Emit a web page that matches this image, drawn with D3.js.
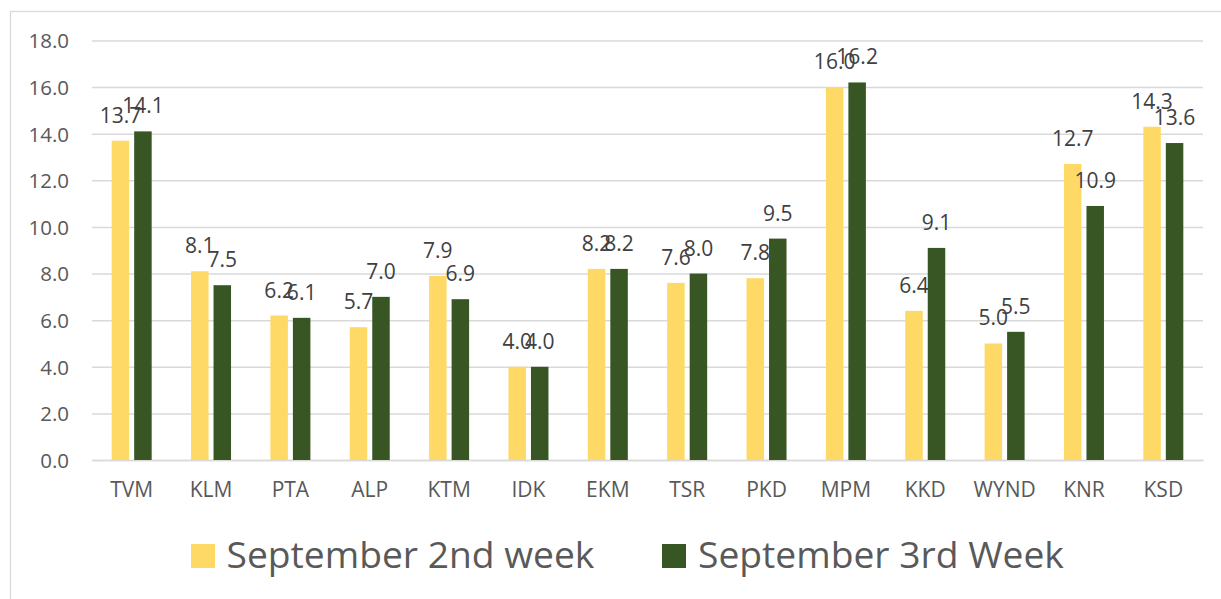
<!DOCTYPE html>
<html><head><meta charset="utf-8">
<script src="https://cdn.jsdelivr.net/npm/d3@7"></script>
<style>
html,body{margin:0;padding:0;background:#fff;}
svg{display:block;font-family:"Open Sans","Noto Sans",sans-serif;}
</style></head>
<body>
<svg id="chart" width="1221" height="599"></svg>
<script>
const categories = ["TVM","KLM","PTA","ALP","KTM","IDK","EKM","TSR","PKD","MPM","KKD","WYND","KNR","KSD"];
const seriesNames = ["September 2nd week","September 3rd Week"];
const week2 = [13.7,8.1,6.2,5.7,7.9,4.0,8.2,7.6,7.8,16.0,6.4,5.0,12.7,14.3];
const week3 = [14.1,7.5,6.1,7.0,6.9,4.0,8.2,8.0,9.5,16.2,9.1,5.5,10.9,13.6];
const yTicks = [0,2,4,6,8,10,12,14,16,18];
const colors = ["#FFD966","#375623"];

const svg = d3.select("#chart");
const plot = {left:92, right:1203, top:40.5, bottom:460};

// outer chart border
svg.append("rect").attr("x",10.5).attr("y",11.5).attr("width",1230).attr("height",620)
  .attr("fill","none").attr("stroke","#d9d9d9").attr("stroke-width",1.3);

const x0 = d3.scaleBand().domain(categories).range([plot.left, plot.right]).padding(0);
const x1 = d3.scaleBand().domain(seriesNames).range([0, x0.bandwidth()]).paddingInner(0.222).paddingOuter(0.875);
const y = d3.scaleLinear().domain([0,18]).range([plot.bottom, plot.top]);

// gridlines
const yAxis = d3.axisLeft(y).tickValues(yTicks).tickSize(-(plot.right-plot.left)).tickFormat(d3.format(".1f")).tickPadding(23);
const gy = svg.append("g").attr("transform",`translate(${plot.left},0)`).call(yAxis);
gy.select(".domain").remove();
gy.selectAll(".tick line").attr("stroke","#d9d9d9").attr("stroke-width",1.5);
gy.selectAll(".tick text").attr("fill","#595959").attr("font-size",20.5).attr("dy","0.36em")
  .attr("font-family",'"Open Sans",sans-serif');

// x axis labels
const xAxis = d3.axisBottom(x0).tickSize(0).tickPadding(22);
const gx = svg.append("g").attr("transform",`translate(0,${plot.bottom})`).call(xAxis);
gx.select(".domain").attr("stroke","#d9d9d9").attr("stroke-width",1.5);
gx.selectAll(".tick text").attr("fill","#595959").attr("font-size",21)
  .attr("font-family",'"Open Sans",sans-serif');

const data = categories.map((c,i)=>({cat:c, vals:[week2[i], week3[i]]}));

const groups = svg.append("g").selectAll("g").data(data).join("g")
  .attr("transform",d=>`translate(${x0(d.cat)},0)`);

groups.selectAll("rect").data(d=>d.vals.map((v,j)=>({v, s:seriesNames[j], j})))
  .join("rect")
  .attr("x",d=>x1(d.s)).attr("width",x1.bandwidth())
  .attr("y",d=>y(d.v)).attr("height",d=>y(0)-y(d.v))
  .attr("fill",d=>colors[d.j]);

groups.selectAll("text.lbl").data(d=>d.vals.map((v,j)=>({v, s:seriesNames[j], j})))
  .join("text").attr("class","lbl")
  .attr("x",d=>x1(d.s)+x1.bandwidth()/2)
  .attr("y",d=>y(d.v)-18)
  .attr("text-anchor","middle")
  .attr("font-size",21).attr("fill","#404040")
  .text(d=>d3.format(".1f")(d.v));

// legend
const legendItems = [
  {name:seriesNames[0], color:colors[0], sx:191, tx:226.5, tw:368},
  {name:seriesNames[1], color:colors[1], sx:662, tx:698, tw:366}
];
const lg = svg.append("g");
legendItems.forEach(it=>{
  lg.append("rect").attr("x",it.sx).attr("y",544).attr("width",24).attr("height",24).attr("fill",it.color);
  const t = lg.append("text").attr("x",it.tx).attr("y",567.5).attr("fill","#595959")
    .attr("font-size",38).text(it.name);
  const w = t.node().getComputedTextLength();
  t.attr("font-size", Math.min(39, 38*it.tw/w));
});
</script>
</body></html>
